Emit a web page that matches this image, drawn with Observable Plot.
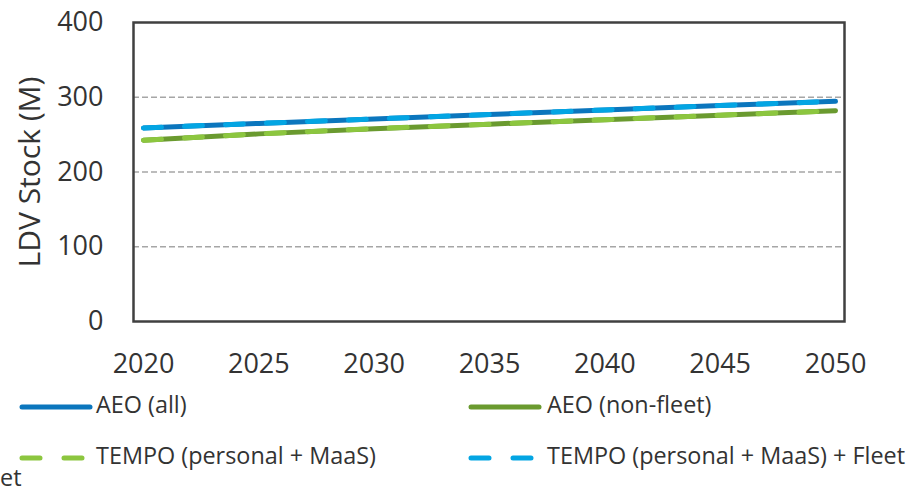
<!DOCTYPE html>
<html><head><meta charset="utf-8">
<script src="https://cdn.jsdelivr.net/npm/d3@7"></script>
<script src="https://cdn.jsdelivr.net/npm/@observablehq/plot@0.6"></script>
<style>
body{margin:0;background:#fff;font-family:"Open Sans",sans-serif;overflow:hidden}
#wrap{position:relative;width:911px;height:493px;overflow:hidden}
.lg{position:absolute;font-size:23.4px;color:#333;white-space:nowrap;line-height:1;font-weight:400}
</style></head><body>
<div id="wrap"><div id="chart"></div></div>
<script>
const years = [2020, 2025, 2030, 2035, 2040, 2045, 2050];
const aeoAll = [259, 265, 271, 277, 283, 289, 294.5];
const aeoNonFleet = [242.5, 251, 258, 264, 270, 276, 282];
const tempoPersonal = [242.5, 251, 258, 264, 270, 276, 282];
const tempoFleet = [259, 265, 271, 277, 283, 289, 294.5];
const yTicks = [0, 100, 200, 300, 400];
const gridTicks = [100, 200, 300];
const seriesNames = ["AEO (all)", "AEO (non-fleet)", "TEMPO (personal + MaaS)", "TEMPO (personal + MaaS) + Fleet"];
const colors = ["#0b76bd", "#6a9a2f", "#8cc63f", "#03a5e3"];

const toRows = (vals) => years.map((y, i) => ({year: y, v: vals[i]}));

const chart = Plot.plot({
  width: 911, height: 380,
  marginLeft: 133, marginRight: 67, marginTop: 22, marginBottom: 59,
  style: {fontFamily: "'Open Sans', sans-serif", fontSize: "27px", color: "#333", fontWeight: 400},
  x: {domain: [2020, 2050], insetLeft: 10, insetRight: 9, label: null},
  y: {domain: [0, 400], label: null},
  marks: [
    Plot.ruleY(gridTicks, {stroke: "#a6a6a6", strokeWidth: 1.3, strokeDasharray: "6,3"}),
    Plot.frame({stroke: "#404040", strokeWidth: 2.5}),
    Plot.line(toRows(aeoAll), {x: "year", y: "v", stroke: colors[0], strokeWidth: 5, strokeLinecap: "round"}),
    Plot.line(toRows(aeoNonFleet), {x: "year", y: "v", stroke: colors[1], strokeWidth: 5, strokeLinecap: "round"}),
    Plot.line(toRows(tempoPersonal), {x: "year", y: "v", stroke: colors[2], strokeWidth: 5, strokeLinecap: "round", strokeDasharray: "18,23"}),
    Plot.line(toRows(tempoFleet), {x: "year", y: "v", stroke: colors[3], strokeWidth: 5, strokeLinecap: "round", strokeDasharray: "18,23"}),
    Plot.axisX({ticks: years, tickFormat: d => String(d), tickSize: 0, tickPadding: 32, fontSize: 27, label: null}),
    Plot.axisY({ticks: yTicks, tickSize: 0, tickPadding: 30, fontSize: 27, label: null}),
    Plot.text(["LDV Stock (M)"], {frameAnchor: "left", dx: -103, dy: 0, rotate: -90, fontSize: 30, fill: "#333", textAnchor: "middle"})
  ]
});
document.getElementById("chart").appendChild(chart);

const wrap = document.getElementById("wrap");
const items = [
  {name: seriesNames[0], color: colors[0], dash: null, x1: 22, x2: 90, tx: 96, y: 407},
  {name: seriesNames[1], color: colors[1], dash: null, x1: 471, x2: 539, tx: 547, y: 407},
  {name: seriesNames[2], color: colors[2], dash: "18,24", x1: 22, x2: 86, tx: 96, y: 458},
  {name: seriesNames[3], color: colors[3], dash: "18,24", x1: 471, x2: 535, tx: 547, y: 458}
];
items.forEach(it => {
  const s = document.createElementNS("http://www.w3.org/2000/svg", "svg");
  s.setAttribute("width", 911); s.setAttribute("height", 20);
  s.style.position = "absolute"; s.style.left = "0px"; s.style.top = (it.y - 10) + "px";
  const l = document.createElementNS("http://www.w3.org/2000/svg", "line");
  l.setAttribute("x1", it.x1); l.setAttribute("x2", it.x2); l.setAttribute("y1", 10); l.setAttribute("y2", 10);
  l.setAttribute("stroke", it.color); l.setAttribute("stroke-width", 5); l.setAttribute("stroke-linecap", "round");
  if (it.dash) l.setAttribute("stroke-dasharray", it.dash);
  s.appendChild(l); wrap.appendChild(s);
  const d = document.createElement("div");
  d.className = "lg"; d.textContent = it.name;
  d.style.left = it.tx + "px"; d.style.top = (it.y - 14) + "px";
  wrap.appendChild(d);
});
const frag = document.createElement("div");
frag.className = "lg"; frag.textContent = "et";
frag.style.left = "0px"; frag.style.top = "466px";
wrap.appendChild(frag);
</script>
</body></html>
